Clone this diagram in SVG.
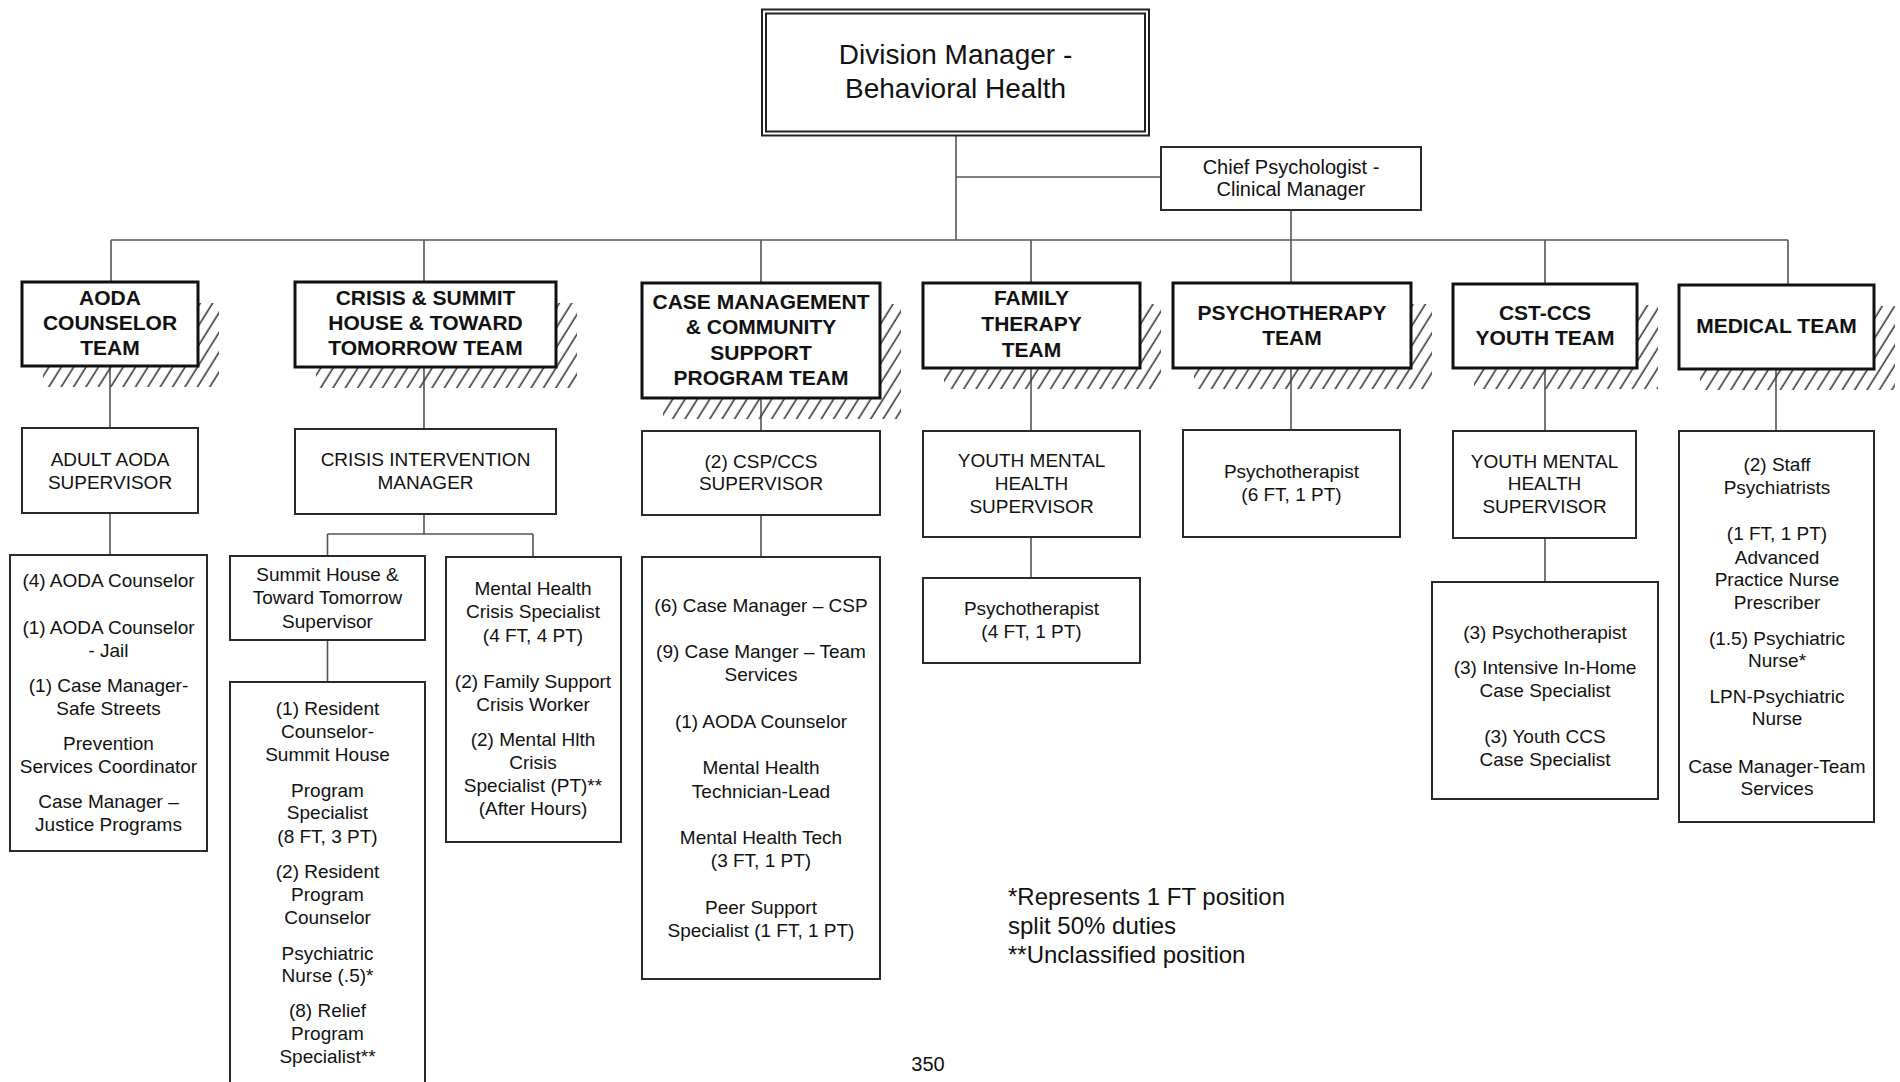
<svg xmlns="http://www.w3.org/2000/svg" width="1900" height="1082" viewBox="0 0 1900 1082">
<style>
.conn{stroke:#555;stroke-width:1.6;fill:none}
.box{fill:#fff;stroke:#2a2a2a;stroke-width:2}
.team{fill:#fff;stroke:#111;stroke-width:3}
.shadow{fill:url(#hatch);stroke:none}
text{font-family:"Liberation Sans",Arial,sans-serif;fill:#111;text-anchor:middle}
.t{font-size:19px}
.b{font-size:21px;font-weight:bold}
</style>
<defs>
<pattern id="hatch" patternUnits="userSpaceOnUse" width="10.5" height="10.5" patternTransform="rotate(32)">
<line x1="5" y1="0" x2="5" y2="10.5" stroke="#3a3a3a" stroke-width="1.6"/>
</pattern>
</defs>
<rect width="1900" height="1082" fill="#fff"/>

<g id="connectors">
<path class="conn" d="M956,136V240M956,177H1161M1291,210V240M111,240H1788"/>
<path class="conn" d="M111,240V282M424,240V282M761,240V283M1031,240V283M1291,240V283M1545,240V284M1788,240V285"/>
<path class="conn" d="M110,366V428M424,367V429M761,398V431M1031,368V431M1291,368V430M1545,368V431M1776,369V431"/>
<path class="conn" d="M110,513V555M424,514V534M327.5,534H533M327.5,534V556M533,534V557M327.5,640V682M761,515V557M1031,537V578M1545,538V582"/>
</g>

<g id="division-manager">
<rect x="762" y="9.5" width="387" height="126" fill="#fff" stroke="#222" stroke-width="2"/>
<rect x="766" y="13.5" width="379" height="118" fill="none" stroke="#222" stroke-width="2"/>
<text style="font-size:28px"><tspan x="955.5" y="64">Division Manager -</tspan><tspan x="955.5" y="98">Behavioral Health</tspan></text>
</g>

<g id="chief-psychologist">
<rect class="box" x="1161" y="147" width="260" height="63"/>
<text style="font-size:20px"><tspan x="1291" y="174">Chief Psychologist -</tspan><tspan x="1291" y="196">Clinical Manager</tspan></text>
</g>

<g id="team-aoda">
<rect class="shadow" x="43" y="303" width="176" height="84"/>
<rect class="team" x="22" y="282" width="176" height="84"/>
<text class="b"><tspan x="110" y="305">AODA</tspan><tspan x="110" y="330">COUNSELOR</tspan><tspan x="110" y="355">TEAM</tspan></text>
</g>

<g id="team-crisis">
<rect class="shadow" x="316" y="303" width="261" height="85"/>
<rect class="team" x="295" y="282" width="261" height="85"/>
<text class="b"><tspan x="425.5" y="305">CRISIS &amp; SUMMIT</tspan><tspan x="425.5" y="330">HOUSE &amp; TOWARD</tspan><tspan x="425.5" y="355">TOMORROW TEAM</tspan></text>
</g>

<g id="team-case">
<rect class="shadow" x="663" y="304" width="238" height="115"/>
<rect class="team" x="642" y="283" width="238" height="115"/>
<text class="b"><tspan x="761" y="308.5">CASE MANAGEMENT</tspan><tspan x="761" y="334">&amp; COMMUNITY</tspan><tspan x="761" y="359.5">SUPPORT</tspan><tspan x="761" y="385">PROGRAM TEAM</tspan></text>
</g>

<g id="team-family">
<rect class="shadow" x="944" y="304" width="217" height="85"/>
<rect class="team" x="923" y="283" width="217" height="85"/>
<text class="b"><tspan x="1031.5" y="305">FAMILY</tspan><tspan x="1031.5" y="331">THERAPY</tspan><tspan x="1031.5" y="357">TEAM</tspan></text>
</g>

<g id="team-psychotherapy">
<rect class="shadow" x="1194" y="304" width="238" height="85"/>
<rect class="team" x="1173" y="283" width="238" height="85"/>
<text class="b"><tspan x="1292" y="319.5">PSYCHOTHERAPY</tspan><tspan x="1292" y="345">TEAM</tspan></text>
</g>

<g id="team-cst">
<rect class="shadow" x="1474" y="305" width="184" height="84"/>
<rect class="team" x="1453" y="284" width="184" height="84"/>
<text class="b"><tspan x="1545" y="319.5">CST-CCS</tspan><tspan x="1545" y="345">YOUTH TEAM</tspan></text>
</g>

<g id="team-medical">
<rect class="shadow" x="1700" y="306" width="195" height="84"/>
<rect class="team" x="1679" y="285" width="195" height="84"/>
<text class="b"><tspan x="1776.5" y="333">MEDICAL TEAM</tspan></text>
</g>

<g id="adult-aoda-supervisor">
<rect class="box" x="22" y="428" width="176" height="85"/>
<text class="t"><tspan x="110" y="466">ADULT AODA</tspan><tspan x="110" y="488.5">SUPERVISOR</tspan></text>
</g>

<g id="crisis-intervention-manager">
<rect class="box" x="295" y="429" width="261" height="85"/>
<text class="t"><tspan x="425.5" y="466">CRISIS INTERVENTION</tspan><tspan x="425.5" y="488.5">MANAGER</tspan></text>
</g>

<g id="csp-ccs-supervisor">
<rect class="box" x="642" y="431" width="238" height="84"/>
<text class="t"><tspan x="761" y="468">(2) CSP/CCS</tspan><tspan x="761" y="490">SUPERVISOR</tspan></text>
</g>

<g id="family-youth-mh-supervisor">
<rect class="box" x="923" y="431" width="217" height="106"/>
<text class="t"><tspan x="1031.5" y="467">YOUTH MENTAL</tspan><tspan x="1031.5" y="490">HEALTH</tspan><tspan x="1031.5" y="513">SUPERVISOR</tspan></text>
</g>

<g id="psychotherapist-6ft">
<rect class="box" x="1183" y="430" width="217" height="107"/>
<text class="t"><tspan x="1291.5" y="477.5">Psychotherapist</tspan><tspan x="1291.5" y="501">(6 FT, 1 PT)</tspan></text>
</g>

<g id="cst-youth-mh-supervisor">
<rect class="box" x="1453" y="431" width="183" height="107"/>
<text class="t"><tspan x="1544.5" y="468">YOUTH MENTAL</tspan><tspan x="1544.5" y="490">HEALTH</tspan><tspan x="1544.5" y="513">SUPERVISOR</tspan></text>
</g>

<g id="medical-staff">
<rect class="box" x="1679" y="431" width="195" height="391"/>
<text class="t"><tspan x="1777" y="470.5">(2) Staff</tspan><tspan x="1777" y="493.5">Psychiatrists</tspan><tspan x="1777" y="540">(1 FT, 1 PT)</tspan><tspan x="1777" y="564">Advanced</tspan><tspan x="1777" y="586">Practice Nurse</tspan><tspan x="1777" y="609">Prescriber</tspan><tspan x="1777" y="645">(1.5) Psychiatric</tspan><tspan x="1777" y="667">Nurse*</tspan><tspan x="1777" y="703">LPN-Psychiatric</tspan><tspan x="1777" y="725">Nurse</tspan><tspan x="1777" y="773">Case Manager-Team</tspan><tspan x="1777" y="795">Services</tspan></text>
</g>

<g id="aoda-staff">
<rect class="box" x="10" y="555" width="197" height="296"/>
<text class="t"><tspan x="108.5" y="587">(4) AODA Counselor</tspan><tspan x="108.5" y="634">(1) AODA Counselor</tspan><tspan x="108.5" y="657">- Jail</tspan><tspan x="108.5" y="692">(1) Case Manager-</tspan><tspan x="108.5" y="715">Safe Streets</tspan><tspan x="108.5" y="750">Prevention</tspan><tspan x="108.5" y="773">Services Coordinator</tspan><tspan x="108.5" y="808">Case Manager –</tspan><tspan x="108.5" y="831">Justice Programs</tspan></text>
</g>

<g id="summit-supervisor">
<rect class="box" x="230" y="556" width="195" height="84"/>
<text class="t"><tspan x="327.5" y="581">Summit House &amp;</tspan><tspan x="327.5" y="604">Toward Tomorrow</tspan><tspan x="327.5" y="628">Supervisor</tspan></text>
</g>

<g id="summit-staff">
<rect class="box" x="230" y="682" width="195" height="420"/>
<text class="t"><tspan x="327.5" y="715">(1) Resident</tspan><tspan x="327.5" y="738">Counselor-</tspan><tspan x="327.5" y="761">Summit House</tspan><tspan x="327.5" y="796.5">Program</tspan><tspan x="327.5" y="819">Specialist</tspan><tspan x="327.5" y="842.5">(8 FT, 3 PT)</tspan><tspan x="327.5" y="878">(2) Resident</tspan><tspan x="327.5" y="901">Program</tspan><tspan x="327.5" y="924">Counselor</tspan><tspan x="327.5" y="959.5">Psychiatric</tspan><tspan x="327.5" y="982">Nurse (.5)*</tspan><tspan x="327.5" y="1016.5">(8) Relief</tspan><tspan x="327.5" y="1040">Program</tspan><tspan x="327.5" y="1063">Specialist**</tspan></text>
</g>

<g id="crisis-staff">
<rect class="box" x="446" y="557" width="175" height="285"/>
<text class="t"><tspan x="533" y="595">Mental Health</tspan><tspan x="533" y="618">Crisis Specialist</tspan><tspan x="533" y="641.5">(4 FT, 4 PT)</tspan><tspan x="533" y="687.5">(2) Family Support</tspan><tspan x="533" y="710.5">Crisis Worker</tspan><tspan x="533" y="746">(2) Mental Hlth</tspan><tspan x="533" y="769">Crisis</tspan><tspan x="533" y="792">Specialist (PT)**</tspan><tspan x="533" y="815">(After Hours)</tspan></text>
</g>

<g id="case-staff">
<rect class="box" x="642" y="557" width="238" height="422"/>
<text class="t"><tspan x="761" y="611.5">(6) Case Manager – CSP</tspan><tspan x="761" y="658">(9) Case Manger – Team</tspan><tspan x="761" y="681">Services</tspan><tspan x="761" y="728">(1) AODA Counselor</tspan><tspan x="761" y="774">Mental Health</tspan><tspan x="761" y="797.5">Technician-Lead</tspan><tspan x="761" y="844">Mental Health Tech</tspan><tspan x="761" y="867">(3 FT, 1 PT)</tspan><tspan x="761" y="913.5">Peer Support</tspan><tspan x="761" y="937">Specialist (1 FT, 1 PT)</tspan></text>
</g>

<g id="family-psychotherapist">
<rect class="box" x="923" y="578" width="217" height="85"/>
<text class="t"><tspan x="1031.5" y="615">Psychotherapist</tspan><tspan x="1031.5" y="638">(4 FT, 1 PT)</tspan></text>
</g>

<g id="cst-staff">
<rect class="box" x="1432" y="582" width="226" height="217"/>
<text class="t"><tspan x="1545" y="639">(3) Psychotherapist</tspan><tspan x="1545" y="674">(3) Intensive In-Home</tspan><tspan x="1545" y="696.5">Case Specialist</tspan><tspan x="1545" y="743">(3) Youth CCS</tspan><tspan x="1545" y="766">Case Specialist</tspan></text>
</g>

<g id="footnote">
<text style="font-size:24px;text-anchor:start"><tspan x="1008" y="905">*Represents 1 FT position</tspan><tspan x="1008" y="934">split 50% duties</tspan><tspan x="1008" y="963">**Unclassified position</tspan></text>
</g>

<g id="page-number">
<text style="font-size:20px"><tspan x="928" y="1071">350</tspan></text>
</g>
</svg>
